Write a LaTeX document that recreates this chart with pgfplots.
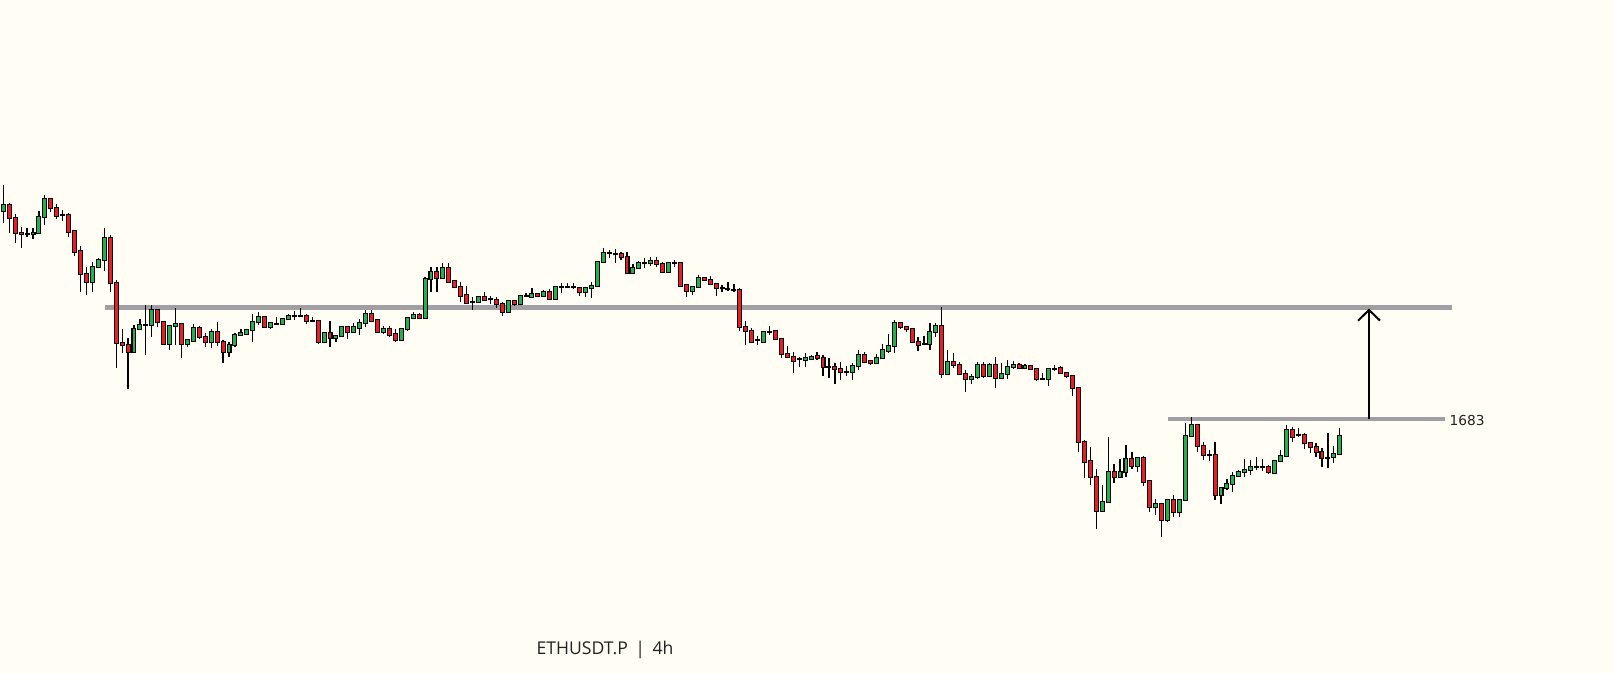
\documentclass[border=0pt]{standalone}
\usepackage{fontspec}
\setmainfont{Open Sans}
\newfontfamily\labelfont{DejaVu Sans}
\usepackage{pgfplots}
\usepackage{pgfplotstable}
\pgfplotsset{compat=1.18}
\usetikzlibrary{arrows.meta}
\definecolor{bg}{HTML}{FFFDF4}
\definecolor{up}{RGB}{34,177,76}
\definecolor{dn}{RGB}{237,28,36}
\definecolor{lvl}{RGB}{160,160,164}
\definecolor{txt}{HTML}{222222}

% ETHUSDT.P 4h candles: index, open, high, low, close
\pgfplotstableread{
n o h l c
1 1891.3 1917 1879.3 1897
2 1897 1899.3 1869.3 1883.7
3 1883.7 1888 1858.7 1868.7
4 1868.7 1875.3 1854.3 1867.7
5 1868 1873.7 1865.3 1868
6 1867.7 1873.7 1863 1869.3
7 1868.7 1891.3 1868.7 1884.7
8 1884.7 1907 1877 1902.7
9 1902.7 1902.7 1890.3 1893.7
10 1893.7 1898 1883 1886.3
11 1887 1892 1881.3 1887
12 1887 1888.7 1864.7 1870.3
13 1871 1871 1846 1850.3
14 1851 1856 1810.3 1827.7
15 1827.7 1834.7 1807 1819.7
16 1819.7 1839.7 1809.7 1834.7
17 1834.7 1843.7 1834.7 1842
18 1842 1873.7 1831.3 1863.7
19 1863.7 1867 1810.3 1818.7
20 1818.7 1822 1734.3 1758.7
21 1759.3 1772.7 1748.7 1756.7
22 1757 1763.7 1713 1750.3
23 1750.3 1777 1750.3 1772.7
24 1772.7 1782.7 1772.7 1777
25 1777 1797 1747 1777
26 1777 1797 1765.3 1792
27 1792 1792 1775.3 1779.7
28 1779.7 1779.7 1757 1758
29 1758 1776 1752 1776
30 1776 1793.7 1757 1778
31 1778 1778 1743.7 1758
32 1758 1762 1755.3 1762
33 1761.3 1777.7 1760.3 1773.7
34 1773.7 1776 1762.7 1765.3
35 1765.3 1769.3 1755.3 1759.7
36 1759.7 1772.7 1753.7 1770.3
37 1770.3 1780.3 1756 1760.3
38 1760.3 1762 1739.3 1750.3
39 1750.3 1760.3 1745.3 1757
40 1757 1769.3 1755.3 1767
41 1767 1772.7 1766 1768.7
42 1767.7 1772.7 1767 1772
43 1772 1788 1760.3 1779.7
44 1779.7 1789.7 1777 1784.7
45 1784.7 1784.7 1775.3 1775.3
46 1775.3 1780.3 1772.7 1778.7
47 1778.3 1784.7 1777.7 1778.3
48 1777.7 1783.7 1777 1783
49 1782.7 1788 1782 1786
50 1786 1791 1782 1786
51 1786 1793.7 1785.3 1786
52 1786 1788 1777.7 1781.3
53 1781.3 1784.7 1779.7 1781.3
54 1781 1782 1757.7 1759.7
55 1759.7 1770.3 1758.7 1769.3
56 1768.7 1781 1754.7 1763.7
57 1763.7 1766 1760.3 1766
58 1766 1775.3 1765.3 1774.7
59 1774.7 1776 1763 1770.3
60 1770.3 1778.7 1769.3 1774.7
61 1774.3 1782.7 1767 1778.7
62 1778.7 1792 1774.7 1787.7
63 1787.7 1792 1780.3 1781.3
64 1782 1782.7 1770.3 1770.3
65 1770.3 1776 1768 1772.7
66 1772.7 1776 1764.7 1767
67 1767.7 1772.7 1760.3 1762
68 1762 1773.7 1761.3 1772.7
69 1772.7 1785.3 1771.3 1783.7
70 1783.7 1790.3 1782.7 1786.7
71 1786.7 1789.3 1783.7 1783.7
72 1783.7 1824.7 1783.7 1822.7
73 1822.7 1835.3 1810.3 1830.3
74 1830.3 1835.3 1810.3 1823.7
75 1823.7 1839.3 1823.7 1833.7
76 1833.7 1838.7 1820.3 1820.3
77 1821 1821 1813.7 1814.7
78 1814.7 1819.7 1800.3 1806.3
79 1807 1816.3 1798 1799.3
80 1800.3 1805.3 1792 1800.3
81 1800.3 1805.3 1799.7 1804.7
82 1804.7 1809.7 1801 1802
83 1802.7 1806.3 1798 1802.7
84 1802 1805.3 1794.3 1797.7
85 1797.7 1800.3 1786 1790.3
86 1790.3 1802 1790.3 1801
87 1801 1802 1796.3 1797.7
88 1797.7 1806 1797.7 1806
89 1806 1808.7 1805.3 1806
90 1804.7 1813.7 1804.7 1808
91 1808 1808.7 1804.7 1806
92 1806 1812 1805.3 1809.7
93 1809.7 1812.7 1802 1803
94 1803 1814.7 1802 1814.7
95 1814.7 1819.3 1809.3 1814.7
96 1814.7 1819.3 1813.7 1814.7
97 1814.7 1819.3 1812.7 1814.7
98 1813.7 1815.3 1806.3 1809.7
99 1809.7 1815.3 1804.7 1813.7
100 1813.7 1819.7 1803.7 1816.3
101 1816.3 1839.7 1816.3 1839.7
102 1839.7 1853.7 1839.7 1848.7
103 1848.7 1852 1843.7 1848.7
104 1847.7 1852.7 1839.3 1847.7
105 1847.7 1850.3 1842 1844.7
106 1844.7 1850.3 1828.7 1828.7
107 1828.7 1838 1827.7 1833.7
108 1833.7 1841.3 1833.7 1838.7
109 1838.7 1843.7 1833.7 1838.7
110 1838.7 1845.3 1836 1841.3
111 1841.3 1845.3 1835.3 1837.7
112 1837.7 1840.3 1829.7 1830.3
113 1830.3 1840.3 1829.7 1839.3
114 1839.3 1842 1835.3 1839.3
115 1838.7 1839.3 1816.3 1816.3
116 1817 1817 1804.7 1811.3
117 1811.3 1815.3 1807 1814.7
118 1814.7 1827 1814.7 1823.7
119 1823.7 1825.3 1821 1822
120 1822 1826 1817 1818
121 1818 1818 1806.3 1813.7
122 1813.7 1817 1809.7 1813.7
123 1812.7 1819.7 1811.3 1812.7
124 1812 1818 1810.3 1812
125 1812 1813.7 1771 1775.3
126 1774.7 1781 1757 1771
127 1771 1773.7 1759.7 1759.7
128 1762 1766 1757 1762
129 1760.3 1771.3 1760.3 1770.3
130 1770.3 1776.3 1767 1770.3
131 1771 1772 1762 1762.7
132 1762.7 1762.7 1743.7 1747.7
133 1747.7 1756 1743.7 1745.3
134 1745.3 1750.3 1729.3 1741.3
135 1742.7 1745.3 1734.7 1742.7
136 1742 1748.7 1734.7 1743.7
137 1743 1747 1743 1745.3
138 1746 1750.3 1742 1743.7
139 1743.7 1747 1726 1735.3
140 1735.3 1743.7 1724.3 1735.3
141 1735.3 1739.3 1717.7 1732.7
142 1732.7 1740.3 1722 1729.7
143 1729.7 1736 1726 1729.7
144 1729.7 1738.7 1722 1736
145 1736 1752 1732 1747
146 1747 1750.3 1738.7 1740.3
147 1741 1742 1737 1738.7
148 1738.7 1748 1738.7 1743.7
149 1743.7 1757.7 1743.7 1752
150 1751.3 1768 1749.3 1756
151 1756 1782 1748.7 1778.7
152 1778.7 1780.3 1772.7 1774.7
153 1774.7 1775.3 1769.7 1772.7
154 1772.7 1773.7 1760.3 1760.3
155 1760.3 1764.7 1751.3 1757
156 1757.7 1766 1757 1757.7
157 1757.7 1778.7 1752 1770.3
158 1770.3 1778.7 1765.3 1776
159 1776 1794.7 1723.7 1728
160 1728 1752 1727 1739.7
161 1739.7 1749.3 1733.7 1737
162 1737 1740.3 1727 1728
163 1728 1732 1709.7 1722.7
164 1722.7 1728 1717.7 1724.7
165 1724.7 1740.3 1722.7 1737
166 1737 1739.7 1724.3 1726.3
167 1726.3 1738.7 1725.3 1737
168 1737 1744.7 1713.7 1723.7
169 1723.7 1738.7 1723 1728
170 1728 1742 1723 1734.7
171 1734.7 1741.3 1733 1737
172 1737 1739.3 1733.7 1733.7
173 1733.7 1737.7 1733 1736
174 1736 1737 1732 1732.7
175 1732.7 1733.7 1721.3 1722.7
176 1722.7 1729.3 1722.7 1722.7
177 1722.7 1733.7 1716.3 1732.7
178 1733 1737 1731.3 1733
179 1733.7 1736 1727.7 1728.7
180 1728.7 1729.3 1723.7 1725.7
181 1725.7 1727 1706.3 1713.7
182 1713.7 1713.7 1650.3 1659.7
183 1659.7 1662 1623.7 1640.3
184 1641 1654.7 1617 1625.3
185 1625.3 1633 1572.7 1591.3
186 1591.3 1617 1590.3 1600.3
187 1600.3 1664.7 1599.3 1630.3
188 1630.3 1638 1619.3 1625.3
189 1625.3 1642.7 1625.3 1629.7
190 1629.7 1657 1625.3 1642.7
191 1642.7 1649.7 1633 1636.3
192 1636.3 1644.7 1630.3 1643.7
193 1643.7 1646 1616 1620.3
194 1621 1622 1590.3 1594.7
195 1594.7 1603 1587 1598
196 1597.7 1597.7 1565 1582
197 1582 1602 1580 1602
198 1602 1607 1585.3 1589.7
199 1589.7 1602 1584.7 1602
200 1602 1679.3 1601.3 1666
201 1666 1685.3 1665.3 1677
202 1677 1677 1650.3 1656
203 1656 1660.3 1642 1647
204 1647 1652 1641.3 1647
205 1647 1659.7 1602 1607
206 1607 1613.7 1598 1613.7
207 1613.7 1623 1612 1618
208 1618 1630.3 1610.3 1626
209 1626 1632 1625.3 1630
210 1630 1642.7 1624.7 1632
211 1632 1642 1627 1634.7
212 1634.7 1645.3 1632 1634.7
213 1634.7 1642.7 1631.3 1634.7
214 1635.3 1637 1627.7 1629.5
215 1629.3 1642 1628.7 1641.3
216 1641.3 1652 1641.3 1646.3
217 1646.3 1677 1645.3 1672
218 1672 1674.7 1660.3 1665.3
219 1667 1673.7 1665.3 1667
220 1667 1668.7 1652.7 1658.7
221 1658.7 1659.3 1648.7 1654.7
222 1654.7 1659.3 1645.3 1650.3
223 1650.3 1653.7 1635.3 1643.7
224 1644.3 1668.7 1633.7 1644.3
225 1644.7 1656 1638.7 1648
226 1647.7 1674.3 1647.7 1666
}\candles

\begin{document}
\begin{tikzpicture}
\fill[bg] (0,0) rectangle (1210.5pt,504.75pt);
\begin{axis}[
  at={(0,0)}, anchor=south west,
  x=4.455pt, y=0.75pt,
  xmin=0.4444, xmax=272.16,
  ymin=1429, ymax=2102,
  hide axis,
  candle/.style={draw=none, mark=none, forget plot,
    error bars/.cd, y dir=plus, y explicit, error mark=none},
]
% support / target levels
\addplot[lvl, line width=3.4pt, forget plot] coordinates {(18.12,1794.3) (244.84,1794.3)};
\addplot[lvl, line width=3.2pt, forget plot] coordinates {(197.03,1682.8) (243.71,1682.8)};
% measured move arrow
\addplot[black, line width=1.5pt, -{Straight Barb[length=8pt,width=16.5pt]}, forget plot]
  coordinates {(230.92,1682.8) (230.92,1793.4)};
% wicks
\addplot[candle, error bar style={draw=black, line width=0.9pt}]
  table[x=n, y=l, y error plus expr={\thisrow{h}-\thisrow{l}}] {\candles};
% body outlines
\addplot[candle, error bar style={draw=black, line width=3.75pt}]
  table[x=n, y expr={min(\thisrow{o},\thisrow{c})-1},
        y error plus expr={abs(\thisrow{c}-\thisrow{o})+2}] {\candles};
% bullish bodies
\addplot[candle, error bar style={draw=up, line width=2.2pt}]
  table[x=n, y=o, y error plus expr={max(\thisrow{c}-\thisrow{o},0)}] {\candles};
% bearish bodies
\addplot[candle, error bar style={draw=dn, line width=2.2pt}]
  table[x=n, y=c, y error plus expr={max(\thisrow{o}-\thisrow{c},0)}] {\candles};
\node[anchor=west, inner sep=0pt, text=txt, font=\labelfont\fontsize{10.3}{12}\selectfont]
  at (axis cs:244.43,1681) {1683};
\node[anchor=center, inner sep=0pt, text=txt, font=\fontsize{13.2}{15}\selectfont]
  at (axis cs:102.3,1452.5) {ETHUSDT.P \,|\, 4h};
\end{axis}
\end{tikzpicture}
\end{document}
